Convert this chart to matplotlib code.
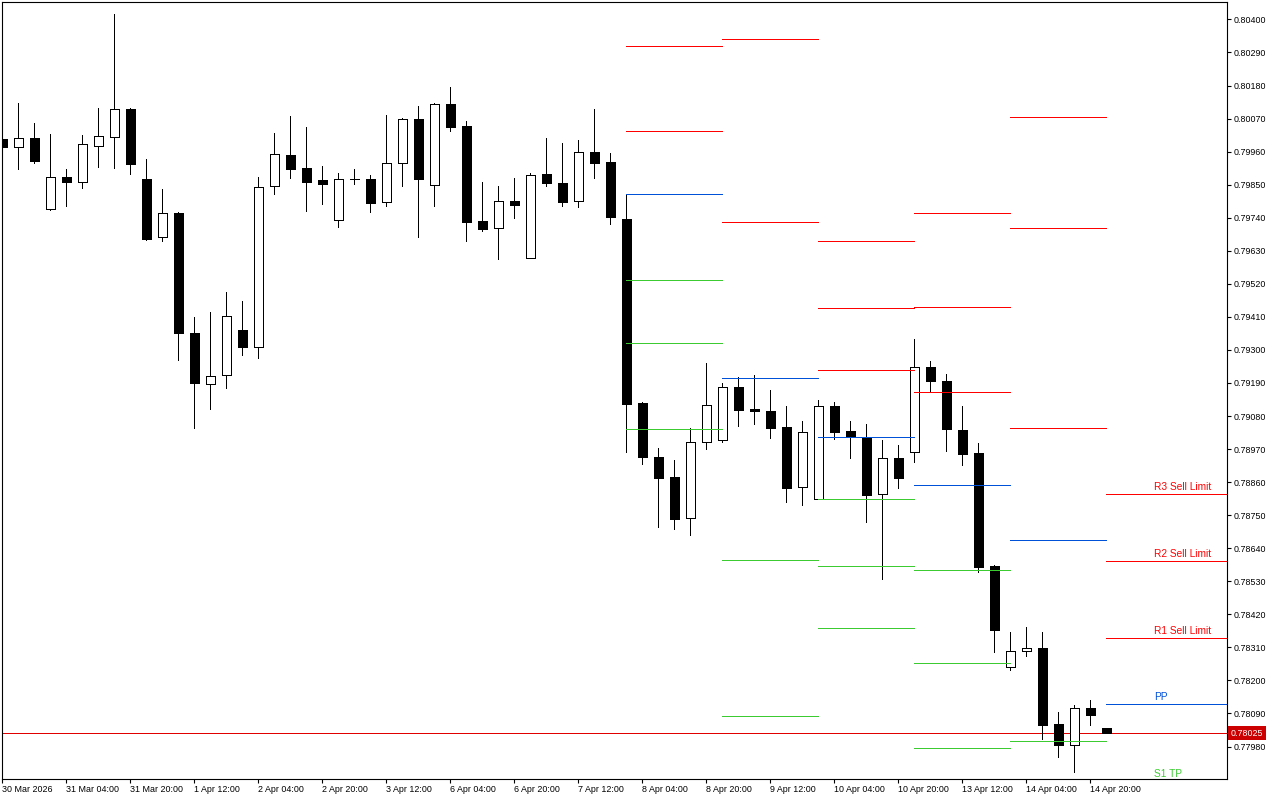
'''
plot.py - MT5 style 4H candle chart with daily pivot levels
'''
# import libraries
import numpy as np
import matplotlib
matplotlib.use('Agg')
from matplotlib import pyplot as plt
from matplotlib import transforms

# ####################################################################################
# DATA
# ####################################################################################

# 4H candles, bar 0 = first bar on screen, bar 69 = current bar
opens = [0.80002, 0.79976, 0.80006, 0.79769, 0.79876, 0.79859, 0.79979, 0.80009, 0.80102, 0.79869,
         0.79676, 0.79756, 0.79356, 0.79187, 0.79217, 0.79366, 0.79310, 0.79846, 0.79949, 0.79906,
         0.79866, 0.79732, 0.79869, 0.79869, 0.79792, 0.79922, 0.80069, 0.79849, 0.80119, 0.80045,
         0.79729, 0.79706, 0.79796, 0.79606, 0.79886, 0.79856, 0.79796, 0.79959, 0.79926, 0.79736,
         0.79123, 0.78944, 0.78877, 0.78741, 0.78994, 0.79000, 0.79177, 0.79103, 0.79097, 0.79043,
         0.78844, 0.78804, 0.79113, 0.79030, 0.79010, 0.78820, 0.78940, 0.78960, 0.79243, 0.79197,
         0.79033, 0.78957, 0.78581, 0.78244, 0.78298, 0.78308, 0.78055, 0.77985, 0.78108, 0.78041]
highs = [0.80006, 0.80122, 0.80055, 0.80019, 0.79902, 0.80016, 0.80105, 0.80418, 0.80105, 0.79936,
         0.79836, 0.79759, 0.79410, 0.79426, 0.79493, 0.79463, 0.79876, 0.80022, 0.80079, 0.80042,
         0.79912, 0.79889, 0.79902, 0.79882, 0.80082, 0.80072, 0.80112, 0.80122, 0.80175, 0.80062,
         0.79859, 0.79846, 0.79872, 0.79889, 0.80006, 0.79989, 0.79999, 0.80102, 0.79956, 0.79819,
         0.79127, 0.78974, 0.78934, 0.79040, 0.79256, 0.79190, 0.79210, 0.79217, 0.79167, 0.79113,
         0.79063, 0.79133, 0.79127, 0.79063, 0.79053, 0.79000, 0.78984, 0.79336, 0.79263, 0.79220,
         0.79113, 0.78990, 0.78584, 0.78361, 0.78378, 0.78361, 0.78095, 0.78118, 0.78135, 0.78041]
lows = [0.79972, 0.79902, 0.79922, 0.79766, 0.79779, 0.79839, 0.79909, 0.79906, 0.79886, 0.79666,
        0.79663, 0.79266, 0.79040, 0.79103, 0.79173, 0.79283, 0.79273, 0.79819, 0.79872, 0.79762,
        0.79786, 0.79709, 0.79852, 0.79759, 0.79779, 0.79846, 0.79676, 0.79779, 0.80029, 0.79663,
        0.79696, 0.79603, 0.79739, 0.79606, 0.79846, 0.79779, 0.79776, 0.79872, 0.79719, 0.78960,
        0.78920, 0.78711, 0.78704, 0.78684, 0.78970, 0.78994, 0.79047, 0.79053, 0.79007, 0.78794,
        0.78784, 0.78804, 0.79003, 0.78940, 0.78727, 0.78537, 0.78840, 0.78927, 0.79160, 0.78964,
        0.78917, 0.78561, 0.78294, 0.78234, 0.78281, 0.78005, 0.77945, 0.77895, 0.78051, 0.78025]
closes = [0.79976, 0.80006, 0.79929, 0.79876, 0.79859, 0.79986, 0.80012, 0.80102, 0.79919, 0.79669,
          0.79756, 0.79356, 0.79190, 0.79213, 0.79413, 0.79310, 0.79842, 0.79952, 0.79902, 0.79859,
          0.79852, 0.79869, 0.79868, 0.79789, 0.79922, 0.80069, 0.79869, 0.80119, 0.80042, 0.79726,
          0.79703, 0.79796, 0.79782, 0.79882, 0.79856, 0.79792, 0.79959, 0.79922, 0.79743, 0.79120,
          0.78944, 0.78874, 0.78737, 0.78994, 0.79117, 0.79177, 0.79100, 0.79097, 0.79040, 0.78840,
          0.79027, 0.79113, 0.79027, 0.79010, 0.78817, 0.78940, 0.78874, 0.79243, 0.79197, 0.79037,
          0.78954, 0.78577, 0.78368, 0.78298, 0.78308, 0.78051, 0.77985, 0.78108, 0.78085, 0.78025]

# time axis labels, one every 4 bars
time_labels = ['30 Mar 2026', '31 Mar 04:00', '31 Mar 20:00', '1 Apr 12:00', '2 Apr 04:00',
               '2 Apr 20:00', '3 Apr 12:00', '6 Apr 04:00', '6 Apr 20:00', '7 Apr 12:00',
               '8 Apr 04:00', '8 Apr 20:00', '9 Apr 12:00', '10 Apr 04:00', '10 Apr 20:00',
               '13 Apr 12:00', '14 Apr 04:00', '14 Apr 20:00']
time_label_bars = [0, 4, 8, 12, 16, 20, 24, 28, 32, 36, 40, 44, 48, 52, 56, 60, 64, 68]

price_ticks = [0.80400, 0.80290, 0.80180, 0.80070, 0.79960, 0.79850, 0.79740, 0.79630,
               0.79520, 0.79410, 0.79300, 0.79190, 0.79080, 0.78970, 0.78860, 0.78750,
               0.78640, 0.78530, 0.78420, 0.78310, 0.78200, 0.78090, 0.77980]

# daily pivot levels (8, 9, 10, 13, 14, 15 Apr), nan = off screen
day_start_bar = [39, 45, 51, 57, 63, 69]
r3 = [np.nan, np.nan, 0.79663, 0.79756, 0.80075, 0.78820]
r2 = [0.80312, 0.80335, 0.79440, 0.79443, 0.79706, 0.78597]
r1 = [0.80029, 0.79726, 0.79233, 0.79160, 0.79040, 0.78341]
pp = [0.79819, 0.79207, 0.79010, 0.78850, 0.78667, 0.78121]
s1 = [0.79533, 0.78601, 0.78804, 0.78567, 0.77998, 0.77865]
s2 = [0.79323, 0.78081, 0.78581, 0.78258, np.nan, np.nan]
s3 = [0.79037, np.nan, 0.78374, 0.77975, np.nan, np.nan]

level_names = ['R3 Sell Limit', 'R2 Sell Limit', 'R1 Sell Limit', 'PP', 'S1 TP']

current_price = 0.78025

# ####################################################################################
# PLOT
# ####################################################################################

RED = '#FF0000'
BLUE = '#0050D8'
GREEN = '#3CCC32'
FONT = 'Liberation Sans'
LW = 0.6  # one crisp pixel

fig = plt.figure(figsize=(12.8, 8), dpi=100)
ax = fig.add_axes([2/1280, 21/800, 1225/1280, 777/800])

xs = np.arange(len(opens))
o = np.array(opens)
c = np.array(closes)
up = c >= o

# wicks behind bodies
ax.vlines(xs, lows, highs, color='black', lw=LW, zorder=2, antialiased=False)
body_bottom = np.minimum(o, c)
body_height = np.abs(c - o)
ax.bar(xs[up], body_height[up], bottom=body_bottom[up], width=0.6,
       color='white', edgecolor='black', linewidth=LW, zorder=3, antialiased=False)
ax.bar(xs[~up], body_height[~up], bottom=body_bottom[~up], width=0.6,
       color='black', edgecolor='black', linewidth=LW, zorder=3, antialiased=False)

# pivot segments, one per day
x_right = 76.54
ends = day_start_bar[1:] + [x_right + 1]
levels = [(r3, RED), (r2, RED), (r1, RED), (pp, BLUE), (s1, GREEN), (s2, GREEN), (s3, GREEN)]
for vals, col in levels:
    for d in range(len(day_start_bar)):
        if np.isnan(vals[d]): continue
        ax.hlines(vals[d], day_start_bar[d], ends[d], colors=col, lw=LW, zorder=4,
                  antialiased=False)

# labels on the last day
label_levels = [(r3[-1], RED), (r2[-1], RED), (r1[-1], RED), (pp[-1], BLUE), (s1[-1], GREEN)]
for name, (val, col) in zip(level_names, label_levels):
    ax.annotate(name, xy=(72.0, val), xytext=(0, 1.5), textcoords='offset points',
                ha='left', va='bottom', color=col, fontsize=7.3, family=FONT,
                annotation_clip=False)

# current price line + tag on the axis
ax.axhline(current_price, color='#E00000', lw=LW, zorder=1, antialiased=False)
trans = transforms.blended_transform_factory(ax.transAxes, ax.transData)
ax.annotate(f'{current_price:.5f}', xy=(1.0, current_price), xycoords=trans,
            xytext=(2.5, 0), textcoords='offset points', ha='left', va='center',
            color='white', fontsize=6.4, family=FONT, annotation_clip=False,
            bbox=dict(boxstyle='square,pad=0.3', fc='#CC0000', ec='none'))

# axes
ax.set_xlim(-0.02, x_right)
ax.set_ylim(0.77872, 0.80458)
ax.yaxis.tick_right()
ax.set_yticks(price_ticks)
ax.set_yticklabels([f'{t:.5f}' for t in price_ticks])
ax.set_xticks(time_label_bars)
ax.set_xticklabels(time_labels)
for lab in ax.get_xticklabels():
    lab.set_ha('left')
ax.tick_params(axis='both', direction='out', length=3, width=0.8, pad=1.5,
               labelsize=6.4, colors='black')
for lab in ax.get_xticklabels() + ax.get_yticklabels():
    lab.set_family(FONT)
for sp in ax.spines.values():
    sp.set_linewidth(0.8)
    sp.set_color('black')

fig.savefig('out.png', dpi=100)
